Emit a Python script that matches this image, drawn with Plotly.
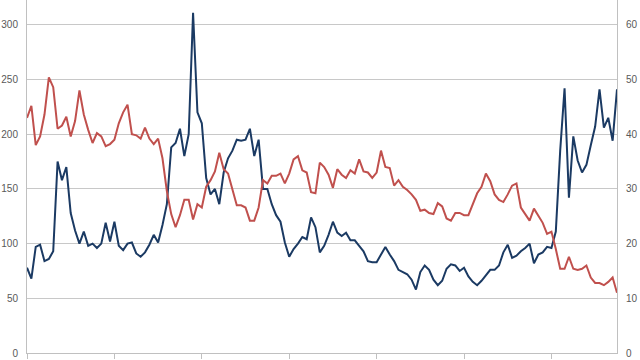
import plotly.graph_objects as go

# Dark blue series (left axis)
blue = [
    78, 68, 97, 99, 84, 86, 93, 175, 158, 170,
    128, 112, 100, 111, 98, 100, 96, 100, 119, 102,
    120, 98, 94, 100, 101, 91, 88, 92, 99, 108,
    101, 117, 136, 188, 192, 205, 180, 200, 311, 220,
    210, 160, 145, 150, 136, 165, 178, 185, 195, 194,
    195, 205, 180, 195, 150, 150, 136, 126, 120, 101,
    88, 95, 100, 106, 104, 124, 115, 92, 98, 108,
    120, 110, 107, 110, 103, 103, 98, 93, 84, 83,
    83, 90, 97, 90, 84, 76, 74, 72, 67, 58,
    74, 80, 76, 67, 62, 66, 77, 81, 80, 75,
    78, 70, 65, 62, 66, 71, 76, 76, 80, 92,
    99, 87, 89, 93, 96, 100, 82, 90, 92, 97,
    96, 111, 185, 242, 142, 198, 176, 165, 172, 190,
    207, 241, 206, 215, 194, 241,
]

# Red series (right axis)
red = [
    43.0, 45.2, 38.0, 39.6, 43.6, 50.4, 48.6, 41.0, 41.6, 43.2,
    39.6, 42.4, 48.0, 43.6, 40.8, 38.4, 40.2, 39.6, 37.8, 38.2,
    39.0, 42.0, 44.0, 45.4, 40.0, 39.8, 39.2, 41.2, 39.2, 38.2,
    39.2, 35.6, 29.6, 25.4, 23.0, 25.2, 28.0, 28.0, 24.4, 27.2,
    26.6, 30.4, 31.6, 33.2, 36.6, 33.6, 32.8, 30.0, 27.0, 27.0,
    26.6, 24.2, 24.2, 26.6, 31.6, 31.0, 32.4, 32.4, 32.8, 31.0,
    32.8, 35.4, 36.0, 33.4, 33.0, 29.4, 29.2, 34.8, 34.0, 32.6,
    30.2, 33.6, 32.6, 32.0, 33.4, 32.8, 35.4, 33.2, 33.0, 32.0,
    33.0, 37.0, 34.0, 33.8, 30.6, 31.6, 30.4, 29.8, 29.0, 28.0,
    26.0, 26.2, 25.6, 25.4, 27.4, 26.8, 24.6, 24.2, 25.6, 25.6,
    25.2, 25.2, 27.2, 29.2, 30.4, 32.8, 31.4, 29.0, 28.0, 27.6,
    29.0, 30.6, 31.0, 26.6, 25.4, 24.2, 26.4, 25.0, 23.8, 21.8,
    22.2, 19.0, 15.4, 15.4, 17.6, 15.4, 15.2, 15.4, 16.0, 13.8,
    12.8, 12.8, 12.4, 13.0, 13.8, 11.0,
]

idx = list(range(len(blue)))

fig = go.Figure()
fig.add_trace(go.Scatter(x=idx, y=blue, mode="lines",
                         line=dict(color="#1B3A63", width=2), yaxis="y",
                         showlegend=False))
fig.add_trace(go.Scatter(x=idx, y=red, mode="lines",
                         line=dict(color="#C0504D", width=2), yaxis="y2",
                         showlegend=False))

axis_col = "#c0c0c0"
font_col = "#595959"

fig.update_layout(
    width=640, height=360,
    margin=dict(l=27, r=23, t=0, b=7),
    paper_bgcolor="white", plot_bgcolor="white",
    font=dict(family="Liberation Sans, Arial, sans-serif", size=10, color=font_col),
    xaxis=dict(range=[0, len(blue) - 1], showgrid=False, zeroline=False,
               showline=True, linecolor=axis_col, linewidth=1,
               ticks="outside", ticklen=5, tickcolor=axis_col,
               tick0=0, dtick=20, showticklabels=False),
    yaxis=dict(range=[0, 322.7], tick0=0, dtick=50, showgrid=True,
               gridcolor="#c8c8c8", gridwidth=1, zeroline=False,
               showline=True, linecolor=axis_col, linewidth=1,
               ticks="", ticklabelstandoff=6,
               tickfont=dict(size=10, color=font_col)),
    yaxis2=dict(range=[0, 64.54], tick0=0, dtick=10, overlaying="y",
                side="right", showgrid=False, zeroline=False,
                showline=True, linecolor=axis_col, linewidth=1,
                ticks="", ticklabelstandoff=6,
                tickfont=dict(size=10, color=font_col)),
)

fig.write_html("out.html",
               config={"displayModeBar": False},
               post_script="document.body.style.margin='0';document.body.style.padding='0';")
